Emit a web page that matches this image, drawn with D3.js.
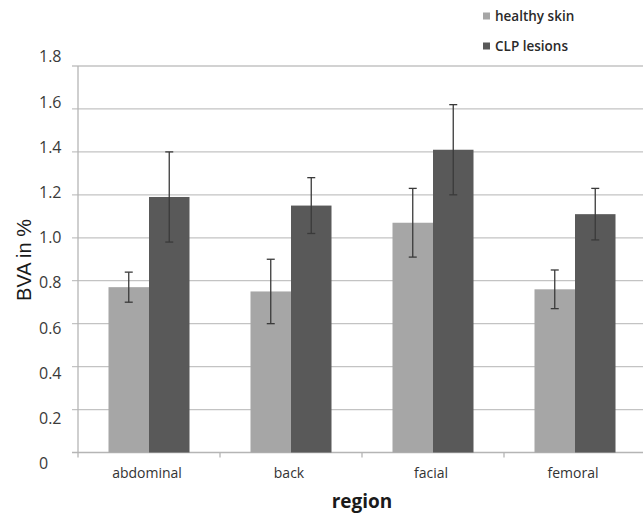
<!DOCTYPE html>
<html>
<head>
<meta charset="utf-8">
<script src="https://cdn.jsdelivr.net/npm/d3@7"></script>
<style>
  html, body { margin: 0; padding: 0; background: #fff; }
  svg { display: block; }
</style>
</head>
<body>
<svg id="chart" width="643" height="513"></svg>
<script>
// Blood vessel area (BVA) by body region
const categories = ["abdominal", "back", "facial", "femoral"];
const seriesNames = ["healthy skin", "CLP lesions"];
const healthyMean = [0.77, 0.75, 1.07, 0.76];
const healthyLow  = [0.70, 0.60, 0.91, 0.67];
const healthyHigh = [0.84, 0.90, 1.23, 0.85];
const clpMean     = [1.19, 1.15, 1.41, 1.11];
const clpLow      = [0.98, 1.02, 1.20, 0.99];
const clpHigh     = [1.40, 1.28, 1.62, 1.23];
const yTicks = [0, 0.2, 0.4, 0.6, 0.8, 1.0, 1.2, 1.4, 1.6, 1.8];
const yTickLabels = ["0", "0.2", "0.4", "0.6", "0.8", "1.0", "1.2", "1.4", "1.6", "1.8"];
const colors = ["#a6a6a6", "#595959"];

const rows = categories.map((c, i) => ({
  category: c,
  bars: [
    { series: 0, mean: healthyMean[i], low: healthyLow[i], high: healthyHigh[i] },
    { series: 1, mean: clpMean[i], low: clpLow[i], high: clpHigh[i] }
  ]
}));

const svg = d3.select("#chart");
const plotLeft = 78, plotRight = 646, plotTop = 66, plotBottom = 452.5;

const x = d3.scaleBand().domain(categories).range([plotLeft, plotRight]).paddingInner(0).paddingOuter(0);
const xs = d3.scaleBand().domain([0, 1]).range([0, x.bandwidth()]).paddingInner(0).paddingOuter(0.753);
const y = d3.scaleLinear().domain([0, 1.8]).range([plotBottom, plotTop]);
// tick labels sit on their own slightly wider vertical spread
const yLab = d3.scaleLinear().domain([0, 1.8]).range([463.5, 56.8]);

// horizontal gridlines with short ticks left of the axis
svg.append("g").selectAll("line").data(yTicks.slice(1)).join("line")
  .attr("x1", plotLeft - 6).attr("x2", 643)
  .attr("y1", d => y(d)).attr("y2", d => y(d))
  .attr("stroke", "#c3c3c3").attr("stroke-width", 1.3);

// y axis line
svg.append("line")
  .attr("x1", plotLeft).attr("x2", plotLeft).attr("y1", plotTop).attr("y2", plotBottom + 5)
  .attr("stroke", "#b5b5b5").attr("stroke-width", 1.3);

// x axis line and category separators
svg.append("line")
  .attr("x1", plotLeft - 6).attr("x2", 643).attr("y1", plotBottom).attr("y2", plotBottom)
  .attr("stroke", "#b5b5b5").attr("stroke-width", 1.3);
svg.append("g").selectAll("line").data(categories.slice(1)).join("line")
  .attr("x1", d => x(d)).attr("x2", d => x(d))
  .attr("y1", plotBottom).attr("y2", plotBottom + 5)
  .attr("stroke", "#b5b5b5").attr("stroke-width", 1.3);

// y tick labels
svg.append("g").selectAll("text").data(yTicks).join("text")
  .attr("x", 39).attr("y", d => yLab(d))
  .attr("dy", "0.35em")
  .attr("font-family", "'Open Sans', sans-serif").attr("font-size", 16)
  .attr("fill", "#3a3a3a")
  .text((d, i) => yTickLabels[i]);

// bars
const groups = svg.append("g").selectAll("g").data(rows).join("g")
  .attr("transform", d => `translate(${x(d.category)},0)`);

groups.selectAll("rect").data(d => d.bars).join("rect")
  .attr("x", d => xs(d.series)).attr("width", xs.bandwidth())
  .attr("y", d => y(d.mean)).attr("height", d => y(0) - y(d.mean))
  .attr("fill", d => colors[d.series]);

// error bars
const err = groups.selectAll("g.err").data(d => d.bars).join("g").attr("class", "err")
  .attr("stroke", "#3a3a3a").attr("stroke-width", 1.3);
const cx = d => xs(d.series) + xs.bandwidth() / 2;
err.append("line")
  .attr("x1", cx).attr("x2", cx)
  .attr("y1", d => y(d.high)).attr("y2", d => y(d.low));
err.append("line")
  .attr("x1", d => cx(d) - 4).attr("x2", d => cx(d) + 4)
  .attr("y1", d => y(d.high)).attr("y2", d => y(d.high));
err.append("line")
  .attr("x1", d => cx(d) - 4).attr("x2", d => cx(d) + 4)
  .attr("y1", d => y(d.low)).attr("y2", d => y(d.low));

// category labels
svg.append("g").selectAll("text").data(categories).join("text")
  .attr("x", d => x(d) + x.bandwidth() / 2 - 2).attr("y", 478)
  .attr("text-anchor", "middle")
  .attr("font-family", "'Open Sans', sans-serif").attr("font-size", 14)
  .attr("fill", "#333")
  .text(d => d);

// axis titles
svg.append("text")
  .attr("x", 362).attr("y", 508).attr("text-anchor", "middle")
  .attr("font-family", "'Open Sans', sans-serif").attr("font-size", 19).attr("font-weight", 700)
  .attr("fill", "#1a1a1a")
  .text("region");

svg.append("text")
  .attr("transform", "translate(31,260) rotate(-90)")
  .attr("text-anchor", "middle")
  .attr("font-family", "'Liberation Sans', Arial, sans-serif").attr("font-size", 20)
  .attr("fill", "#1a1a1a")
  .text("BVA in %");

// legend
const legend = svg.append("g").selectAll("g").data(seriesNames).join("g")
  .attr("transform", (d, i) => `translate(483,${16 + i * 30})`);
legend.append("rect")
  .attr("x", 0).attr("y", -3.5).attr("width", 7).attr("height", 7)
  .attr("fill", (d, i) => colors[i]);
legend.append("text")
  .attr("x", 12).attr("y", 0).attr("dy", "0.35em")
  .attr("font-family", "'Open Sans', sans-serif").attr("font-size", 13.5).attr("font-weight", 600)
  .attr("fill", "#2a2a2a")
  .text(d => d);
</script>
</body>
</html>
